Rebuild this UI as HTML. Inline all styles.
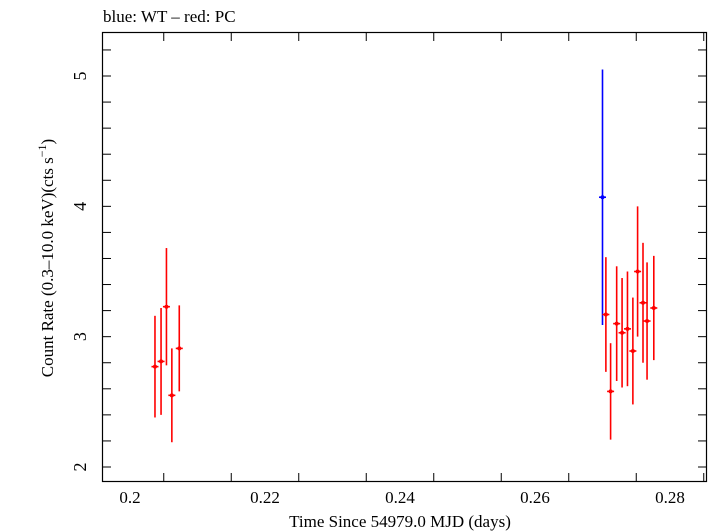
<!DOCTYPE html>
<html><head><meta charset="utf-8"><style>
body{margin:0;background:#fff}
svg{display:block;font-family:"Liberation Serif",serif}
</style></head><body>
<svg id="chart" width="709" height="532" viewBox="0 0 709 532" xmlns="http://www.w3.org/2000/svg">
<text x="103" y="22" font-size="17">blue: WT – red: PC</text>
<rect x="102.5" y="32.5" width="604" height="449" fill="none" stroke="#000" stroke-width="1.2"/>
<g id="ticks"></g>
<g id="marks"></g>
<text x="400" y="527" font-size="17" text-anchor="middle">Time Since 54979.0 MJD (days)</text>
<text transform="translate(53,258) rotate(-90)" font-size="17" text-anchor="middle">Count Rate (0.3–10.0 keV)(cts s<tspan font-size="12" dy="-7">−1</tspan><tspan dy="7">)</tspan></text>
</svg>
<script>
const pcTime=[0.2037,0.2046,0.2054,0.2062,0.2073,0.2705,0.2712,0.2721,0.2729,0.2737,0.2745,0.2752,0.2760,0.2766,0.2776];
const pcRate=[2.77,2.81,3.23,2.55,2.91,3.17,2.58,3.10,3.03,3.06,2.89,3.50,3.26,3.12,3.22];
const pcErr=[0.39,0.41,0.45,0.36,0.33,0.44,0.37,0.44,0.42,0.44,0.41,0.50,0.46,0.45,0.40];
const wtTime=[0.2700];
const wtRate=[4.07];
const wtErr=[0.98];
const xTicks=[0.2,0.22,0.24,0.26,0.28];
const yTicks=[2,3,4,5];
const NS="http://www.w3.org/2000/svg";
const X=t=>130+(t-0.2)*6750;
const Y=v=>467-(v-2)*130.33;
const tk=document.getElementById('ticks'),mk=document.getElementById('marks');
function ln(g,x1,y1,x2,y2,c,w){const l=document.createElementNS(NS,'line');l.setAttribute('x1',x1);l.setAttribute('y1',y1);l.setAttribute('x2',x2);l.setAttribute('y2',y2);l.setAttribute('stroke',c);l.setAttribute('stroke-width',w);g.appendChild(l);return l;}
for(let t=0.195;t<=0.2851;t+=0.01){const x=X(t);if(x<103||x>706)continue;
const a=ln(tk,x,33,x,41,'#000',1);
const b=ln(tk,x,481,x,473,'#000',1);}
for(let v=1.8;v<=5.41;v+=0.2){const y=Y(v);if(y<33||y>481)continue;
const a=ln(tk,103,y,111,y,'#000',1);
const b=ln(tk,706,y,698,y,'#000',1);}
xTicks.forEach(t=>{const e=document.createElementNS(NS,'text');e.setAttribute('x',X(t));e.setAttribute('y',503);e.setAttribute('font-size','17');e.setAttribute('text-anchor','middle');e.textContent=t;


tk.appendChild(e);});
yTicks.forEach(v=>{const e=document.createElementNS(NS,'text');e.setAttribute('transform','translate(86,'+Y(v)+') rotate(-90)');e.setAttribute('font-size','18');e.setAttribute('text-anchor','middle');e.textContent=v;


tk.appendChild(e);});
function series(T,R,E,c,name){T.forEach((t,i)=>{const x=X(t),y=Y(R[i]);
const v=ln(mk,x,Y(R[i]+E[i]),x,Y(R[i]-E[i]),c,1.6);


const h=ln(mk,x-3.5,y,x+3.5,y,c,1.6);


const p=document.createElementNS(NS,'circle');p.setAttribute('cx',x);p.setAttribute('cy',y);p.setAttribute('r',2);p.setAttribute('fill',c);


mk.appendChild(p);});}
series(wtTime,wtRate,wtErr,'#0000ff','wt');
series(pcTime,pcRate,pcErr,'#ff0000','pc');
</script>
</body></html>
